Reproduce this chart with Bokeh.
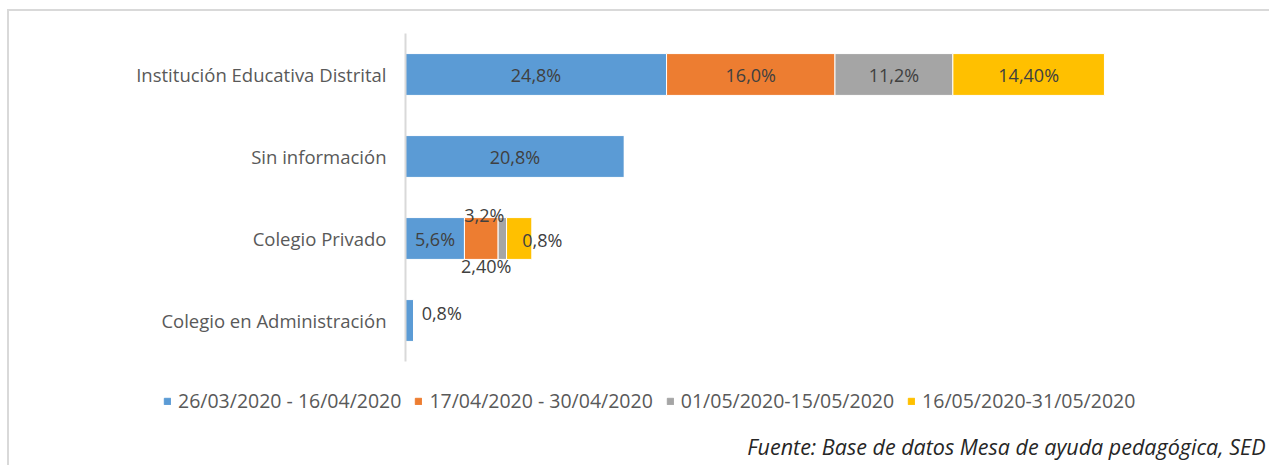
import numpy as np
from bokeh.plotting import figure
from bokeh.layouts import column
from bokeh.models import ColumnDataSource, Range1d, Legend, LegendItem, Label
from bokeh.core.properties import value
from bokeh.embed import file_html
from bokeh.resources import INLINE

# ---- data ----
categories = ["Institución Educativa Distrital", "Sin información",
              "Colegio Privado", "Colegio en Administración"]
series_names = ["26/03/2020 - 16/04/2020", "17/04/2020 - 30/04/2020",
                "01/05/2020-15/05/2020", "16/05/2020-31/05/2020"]
s1 = [24.8, 20.8, 5.6, 0.8]
s2 = [16.0, 0.0, 3.2, 0.0]
s3 = [11.2, 0.0, 0.8, 0.0]
s4 = [14.4, 0.0, 2.4, 0.0]
label_decimals = [1, 1, 1, 2]
source_note = "Fuente: Base de datos Mesa de ayuda pedagógica, SED"

# ---- styles ----
colors = ["#5B9BD5", "#ED7D31", "#A5A5A5", "#FFC000"]
FONT = "Open Sans"
W = 1260
H1, H2 = 360, 94
# label nudges (screen px) for manually moved data labels
nudges = {
    (2, 1): (3, -24),
    (2, 2): (40, 1),
    (2, 3): (-33, 27),
    (3, 0): (32, -8),
}

series = [s1, s2, s3, s4]
keys = ["s1", "s2", "s3", "s4"]
factors = list(reversed(categories))

data = {"cat": categories}
for k, s in zip(keys, series):
    data[k] = s
src = ColumnDataSource(data)

p = figure(width=W, height=H1, y_range=factors,
           x_range=Range1d(0, 81.7), output_backend="svg",
           toolbar_location=None, min_border_left=396, min_border_top=22,
           min_border_bottom=H1 - 22 - 328, min_border_right=4,
           outline_line_color=None)
p.frame_align = False

rends = p.hbar_stack(keys, y="cat", height=0.51, color=colors, source=src,
                     line_color="white", line_width=1)

p.xaxis.visible = False
p.xgrid.visible = False
p.ygrid.visible = False
ax = p.yaxis[0]
ax.axis_line_color = "#d9d9d9"
ax.axis_line_width = 2
ax.major_tick_line_color = None
ax.minor_tick_line_color = None
ax.major_tick_out = 0
ax.major_tick_in = 0
ax.major_label_standoff = 19
ax.major_label_text_font = FONT
ax.major_label_text_font_size = "18.5px"
ax.major_label_text_color = "#595959"

# data labels
lx, ly, lt, xo, yo = [], [], [], [], []
for ci, cat in enumerate(categories):
    cum = 0.0
    for si, s in enumerate(series):
        v = s[ci]
        if v > 0:
            lx.append(cum + v / 2)
            ly.append(cat)
            lt.append(f"{v:.{label_decimals[si]}f}".replace(".", ",") + "%")
            dx, dy = nudges.get((ci, si), (0, 0))
            xo.append(dx)
            yo.append(dy)
        cum += v
lsrc = ColumnDataSource(dict(x=lx, y=ly, t=lt, xo=xo, yo=yo))
p.text(x="x", y="y", text="t", x_offset="xo", y_offset="yo", source=lsrc,
       text_align="center", text_baseline="middle", text_font=value(FONT),
       text_font_size="18px", text_color="#404040")

# ---- legend + source note panel ----
p2 = figure(width=W, height=H2, x_range=Range1d(0, W), y_range=Range1d(0, H2),
            output_backend="svg", toolbar_location=None, min_border=0,
            outline_line_color=None)
p2.frame_align = False
p2.axis.visible = False
p2.grid.visible = False
# legend proxies (NaN geometry: nothing drawn in the plot, only the legend swatch)
nan = [np.nan]
legend_rends = [p2.quad(left=nan, right=nan, top=nan, bottom=nan, color=c)
                for c in colors]

legend = Legend(items=[LegendItem(label=n, renderers=[r]) for n, r in zip(series_names, legend_rends)],
                orientation="horizontal", location=(154, 51),
                glyph_width=8, glyph_height=8, label_standoff=7, spacing=13,
                padding=0, margin=0, border_line_color=None,
                background_fill_alpha=0, label_text_font=FONT,
                label_text_font_size="19.5px", label_text_color="#595959")
p2.add_layout(legend, "center")

note = Label(x=1256, y=19, text=source_note, text_align="right",
             text_baseline="alphabetic", text_font=FONT, text_font_style="italic",
             text_font_size="21.5px", text_color="#262626")
p2.add_layout(note)

layout = column(p, p2, spacing=0,
                styles={"border-top": "2px solid #d9d9d9",
                        "border-left": "2px solid #d9d9d9",
                        "margin-left": "7px", "margin-top": "9px"})

open("out.html", "w").write(file_html(layout, INLINE))
